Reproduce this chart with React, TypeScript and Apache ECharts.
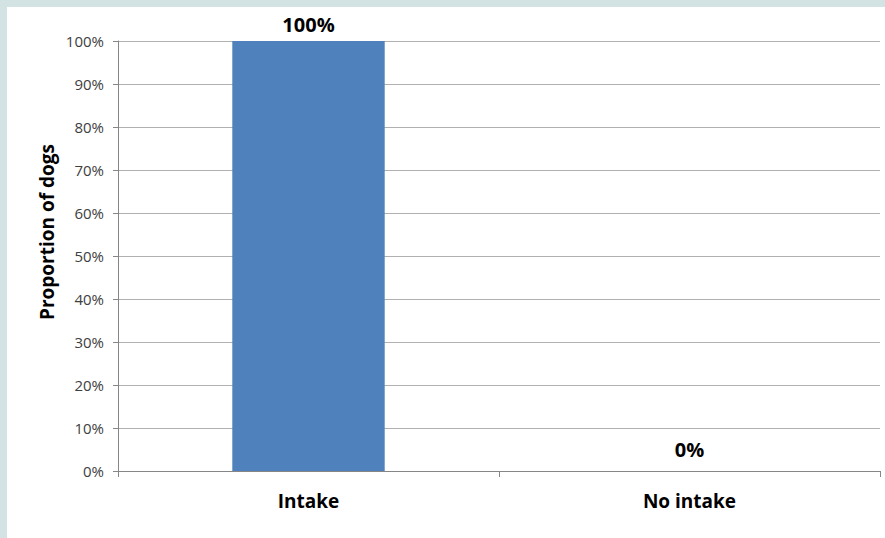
import React, { useEffect, useRef } from "react";
import * as echarts from "echarts";

const categories = ["Intake", "No intake"];
const proportions = [100, 0];
const yTicks = [0, 10, 20, 30, 40, 50, 60, 70, 80, 90, 100];
const yTitle = "Proportion of dogs";

const FONT = "'Open Sans', 'Liberation Sans', sans-serif";

export default function App() {
  const ref = useRef<HTMLDivElement>(null);

  useEffect(() => {
    if (!ref.current) return;
    const chart = echarts.init(ref.current, undefined, { renderer: "svg" });
    chart.setOption({
      animation: false,
      backgroundColor: "#ffffff",
      grid: { left: 111, top: 34, right: 5, bottom: 67, containLabel: false },
      graphic: [
        {
          type: "text",
          x: 40,
          y: 225,
          rotation: Math.PI / 2,
          style: {
            text: yTitle,
            fill: "#000000",
            font: `bold 19px ${FONT}`,
            textAlign: "center",
            textVerticalAlign: "middle",
          },
        },
      ],
      xAxis: {
        type: "category",
        data: categories,
        axisLine: { show: true, lineStyle: { color: "#868686", width: 1 } },
        axisTick: { show: true, alignWithLabel: false, length: 6, lineStyle: { color: "#868686" } },
        axisLabel: {
          color: "#000000",
          fontFamily: FONT,
          fontWeight: "bold",
          fontSize: 19,
          margin: 20,
        },
      },
      yAxis: {
        type: "value",
        min: yTicks[0],
        max: yTicks[yTicks.length - 1],
        interval: 10,
        axisLine: { show: true, lineStyle: { color: "#868686", width: 1 } },
        axisTick: { show: true, length: 5, lineStyle: { color: "#868686" } },
        axisLabel: {
          color: "#404040",
          fontFamily: FONT,
          fontSize: 15,
          margin: 14,
          formatter: (v: number) => `${v}%`,
        },
        splitLine: { show: true, lineStyle: { color: "#b0b0b0", width: 1 } },
      },
      series: [
        {
          type: "bar",
          data: proportions.map((v) =>
            v === 0 ? { value: v, label: { distance: 12 } } : { value: v }
          ),
          barWidth: "40%",
          itemStyle: { color: "#4f81bd" },
          label: {
            show: true,
            position: "top",
            distance: 7,
            color: "#000000",
            fontFamily: FONT,
            fontWeight: "bold",
            fontSize: 20,
            formatter: (p: any) => `${p.value}%`,
          },
        },
      ],
    });
    return () => chart.dispose();
  }, []);

  return (
    <div
      style={{
        position: "fixed",
        left: 0,
        top: 0,
        width: 885,
        height: 538,
        background: "#d3e3e3",
      }}
    >
      <div
        ref={ref}
        style={{ position: "absolute", left: 7, top: 7, width: 878, height: 531 }}
      />
    </div>
  );
}
